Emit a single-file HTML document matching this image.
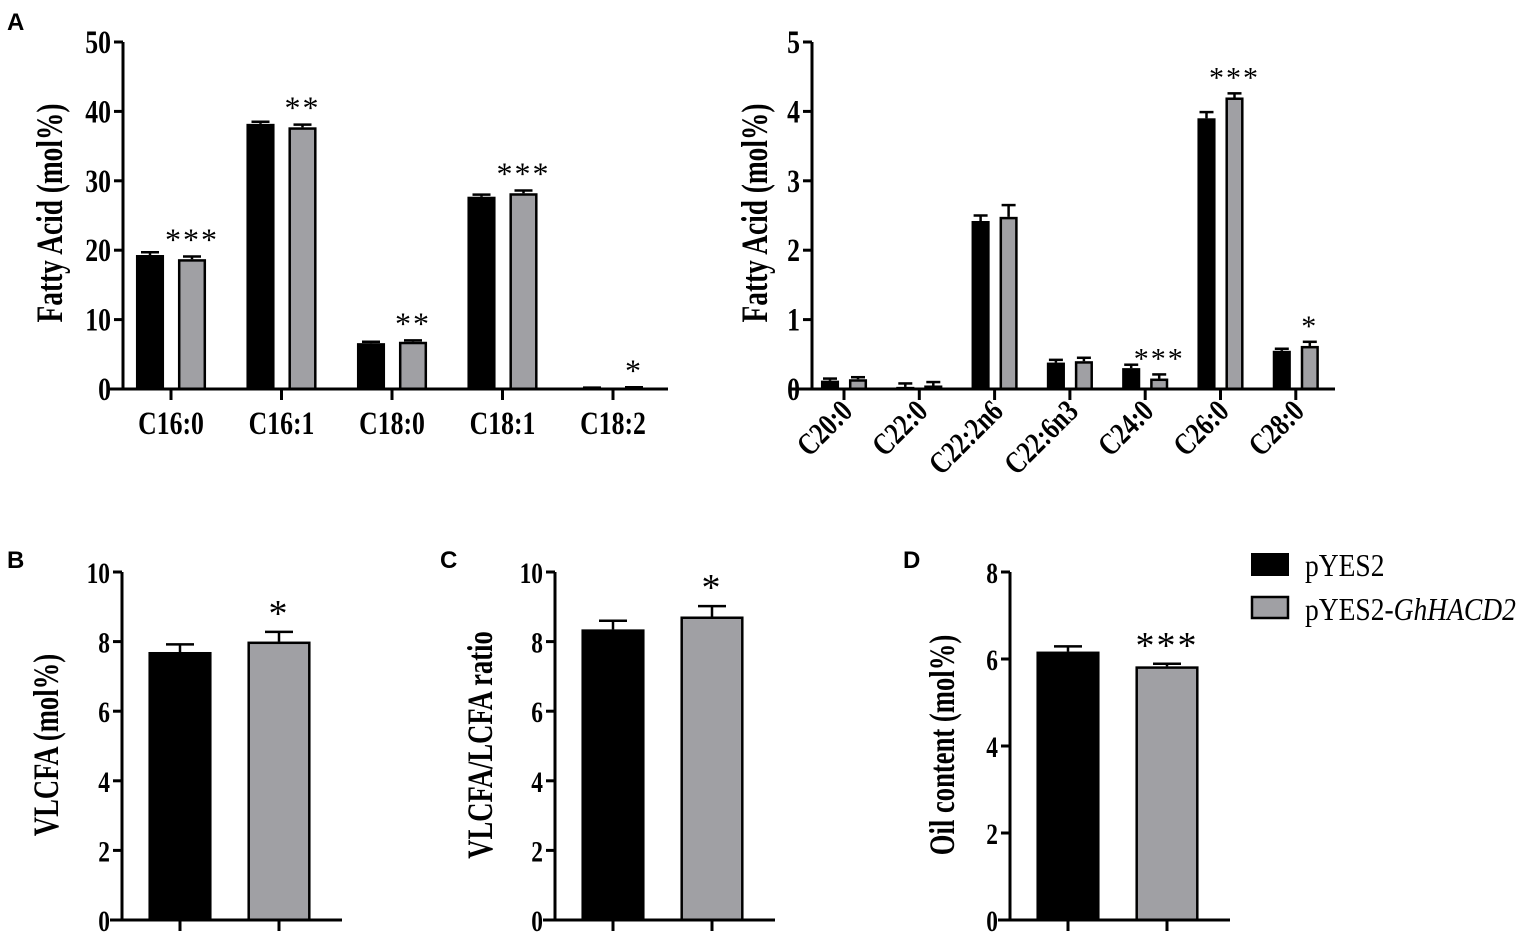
<!DOCTYPE html>
<html><head><meta charset="utf-8"><style>
html,body{margin:0;padding:0;background:#fff;}
svg{display:block;}
.t{font-family:"Liberation Serif",serif;font-weight:bold;fill:#000;}
.p{font-family:"Liberation Sans",sans-serif;font-weight:bold;fill:#000;font-size:24px;}
</style></head><body>
<svg id="fig" width="1535" height="940" viewBox="0 0 1535 940" xmlns="http://www.w3.org/2000/svg">
<text class="p" x="7" y="30">A</text>
<text class="p" x="7" y="568">B</text>
<text class="p" x="440" y="568">C</text>
<text class="p" x="903" y="568">D</text>
<g>
<rect x="1251" y="553" width="38" height="23" fill="#000"/>
<text class="t" transform="translate(1305,576) scale(0.86,1)" font-size="32" style="font-weight:normal">pYES2</text>
<rect x="1252" y="597" width="36" height="21" fill="#a0a0a4" stroke="#000" stroke-width="2.5"/>
<text class="t" transform="translate(1305,620) scale(0.86,1)" font-size="32" style="font-weight:normal">pYES2-<tspan font-style="italic">GhHACD2</tspan></text>
</g>
</svg>
<script>
// Panel A left
const aCats = ["C16:0","C16:1","C18:0","C18:1","C18:2"];
const aBlack = [19.3,38.2,6.6,27.7,0.15];
const aBlackErr = [0.4,0.3,0.2,0.3,0.05];
const aGray = [18.7,37.7,6.8,28.2,0.2];
const aGrayErr = [0.4,0.4,0.2,0.4,0.05];
const aSig = ["***","**","**","***","*"];
const aTicks = [0,10,20,30,40,50];
// Panel A right
const a2Cats = ["C20:0","C22:0","C22:2n6","C22:6n3","C24:0","C26:0","C28:0"];
const a2Black = [0.12,0.03,2.42,0.38,0.3,3.9,0.55];
const a2BlackErr = [0.03,0.05,0.08,0.04,0.05,0.09,0.03];
const a2Gray = [0.14,0.05,2.48,0.4,0.15,4.2,0.62];
const a2GrayErr = [0.03,0.05,0.17,0.05,0.06,0.06,0.06];
const a2Sig = ["","","","","***","***","*"];
const a2Ticks = [0,1,2,3,4,5];
// Panel B
const bVals = [7.7,8.0];
const bErr = [0.22,0.28];
const bSig = ["","*"];
const bTicks = [0,2,4,6,8,10];
// Panel C
const cVals = [8.35,8.72];
const cErr = [0.25,0.3];
const cSig = ["","*"];
const cTicks = [0,2,4,6,8,10];
// Panel D
const dVals = [6.17,5.83];
const dErr = [0.12,0.06];
const dSig = ["","***"];
const dTicks = [0,2,4,6,8];

const svg = document.getElementById('fig');
const NS = 'http://www.w3.org/2000/svg';
function mk(tag, attrs, parent){
  const e = document.createElementNS(NS, tag);
  for (const k in attrs) e.setAttribute(k, attrs[k]);
  (parent||svg).appendChild(e);
  return e;
}
function line(x1,y1,x2,y2,w,g){ return mk('line',{x1,y1,x2,y2,stroke:'#000','stroke-width':w},g); }
function txt(g, str, x, y, size, anchor, extra, sx){
  const t = mk('text',{transform:'translate('+x+','+y+')'+(extra||'')+' scale('+(sx||0.8)+',1)','text-anchor':anchor,'font-size':size,class:'t'},g);
  t.textContent = str;
  return t;
}

function chart(o){
  const g = mk('g',{});
  
  
  const ymax = o.ticks[o.ticks.length-1];
  const y = v => o.y0 - (v/ymax)*(o.y0-o.yTop);
  o.series.forEach((s) => {
    s.vals.forEach((v, i) => {
      const cx = o.cx(i) + s.off;
      const x0 = cx - o.bw/2;
      const top = y(v);
      const ex = o.errW/2;
      const eTop = y(v + s.err[i]);
      const el = line(cx, top, cx, eTop, 2.5, g);
      
      
      const cap = line(cx-ex, eTop, cx+ex, eTop, 2.5, g);
      
      
      const fill = s.fills ? s.fills[i] : s.fill;
      const r = mk('rect',{x:x0+1.2,y:top+1.2,width:Math.max(o.bw-2.4,0),height:Math.max(o.y0-top-1.2,0),fill:fill,stroke:'#000','stroke-width':2.5},g);
      
      
      if (s.sig && s.sig[i]) {
        const t = mk('text',{x:cx,y:eTop-6,'text-anchor':'middle','font-size':o.sigSize,class:'t'},g);
        t.style.fontWeight='normal';
        t.style.letterSpacing='2px';
        t.textContent = s.sig[i];
        
        
      }
    });
  });
  const ya = line(o.ax, o.yTop, o.ax, o.y0+1.5, 3, g);
  
  
  o.ticks.forEach(tv => {
    const ty = y(tv);
    line(o.ax-9, ty, o.ax, ty, 3, g);
    const t = txt(g, String(tv), o.ax-12, ty+11, o.tickSize, 'end', '', 0.78);
    
    
  });
  const xa = line(o.xStart, o.y0, o.xEnd, o.y0, 3, g);
  
  
  const n = o.series[0].vals.length;
  for (let i=0;i<n;i++){
    const cx = o.cx(i);
    line(cx, o.y0, cx, o.y0+11, 3, g);
    if (o.cats){
      let t;
      if (o.rot){
        t = txt(g, o.cats[i], cx+10, o.y0+24, o.catSize, 'end', ' rotate(-45)', 0.8);
      } else {
        t = txt(g, o.cats[i], cx, o.y0+45, o.catSize, 'middle', '', 0.78);
      }
      
      
    }
  }
  const yl = txt(g, o.ylabel, o.ylx, o.yly, o.ylSize, 'middle', ' rotate(-90)', 0.74);
  
  
}

chart({name:'chart-a-long-chain', cats:aCats, ticks:aTicks, y0:389, yTop:42, ax:123, xStart:110, xEnd:668,
  cx:i=>171+i*110.5, bw:28, errW:18, tickSize:33, catSize:33, sigSize:32,
  series:[{key:'pyes2',vals:aBlack,err:aBlackErr,fill:'#000',off:-21},
          {key:'ghhacd2',vals:aGray,err:aGrayErr,fill:'#a0a0a4',off:21,sig:aSig}],
  ylabel:'Fatty Acid (mol%)', ylx:62, yly:213, ylSize:37});

chart({name:'chart-a-very-long-chain', cats:a2Cats, ticks:a2Ticks, y0:389, yTop:42, ax:812, xStart:790, xEnd:1335,
  cx:i=>844+i*75.3, bw:18, errW:14, tickSize:33, catSize:31, sigSize:30, rot:true,
  series:[{key:'pyes2',vals:a2Black,err:a2BlackErr,fill:'#000',off:-14},
          {key:'ghhacd2',vals:a2Gray,err:a2GrayErr,fill:'#a0a0a4',off:14,sig:a2Sig}],
  ylabel:'Fatty Acid (mol%)', ylx:767, yly:213, ylSize:37});

function twoBar(name, vals, err, sig, ticks, ax, ylabel, ylx){
  chart({name, ticks, y0:920, yTop:572, ax, xStart:ax-12, xEnd:ax+220,
    cx:i=>ax+58+i*99, bw:63, errW:28, tickSize:30, sigSize:38, ylabel, ylx, yly:745, ylSize:36,
    series:[{key:'bar',vals:vals,err:err,fills:['#000','#a0a0a4'],off:0,sig:sig}]});
}
twoBar('chart-b-vlcfa', bVals, bErr, bSig, bTicks, 122, 'VLCFA (mol%)', 58);
twoBar('chart-c-ratio', cVals, cErr, cSig, cTicks, 555, 'VLCFA/LCFA ratio', 492);
twoBar('chart-d-oil', dVals, dErr, dSig, dTicks, 1010, 'Oil content (mol%)', 954);
</script>
</body></html>
